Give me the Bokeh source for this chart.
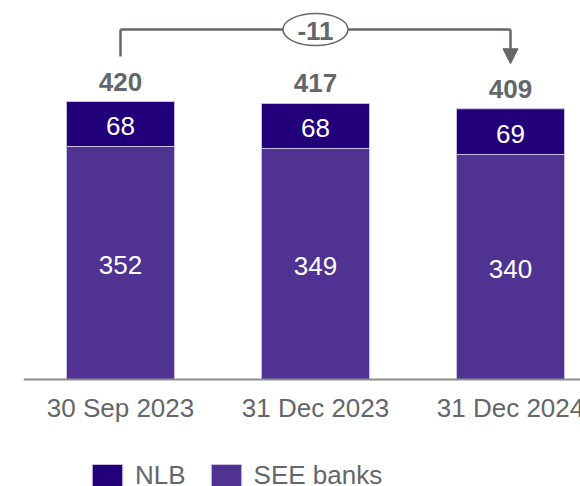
from bokeh.plotting import figure
from bokeh.models import Range1d, Legend, LegendItem, ColumnDataSource, Arrow, NormalHead, Span
from bokeh.core.properties import value
from bokeh.embed import file_html
from bokeh.resources import INLINE

# ---- data ----
categories = ["30 Sep 2023", "31 Dec 2023", "31 Dec 2024"]
nlb = [68, 68, 69]
see_banks = [352, 349, 340]
totals = [420, 417, 409]
change_label = "-11"

# ---- style ----
NLB_COLOR = "#22007A"
SEE_COLOR = "#4F3291"
GRAY = "#63666A"
AXIS_GRAY = "#8C8D91"
FONT = "Liberation Sans"

W, H = 580, 486
PX = 278 / 420          # pixels per unit
BASE_PX = 379           # baseline position from top
Y1 = BASE_PX / PX
Y0 = -(H - BASE_PX) / PX

x = list(range(len(categories)))
src = ColumnDataSource(dict(
    x=x,
    cat=categories,
    nlb=nlb,
    see=see_banks,
    total=totals,
    see_mid=[s / 2 for s in see_banks],
    nlb_mid=[s + n / 2 for s, n in zip(see_banks, nlb)],
    see_lbl=[str(v) for v in see_banks],
    nlb_lbl=[str(v) for v in nlb],
    tot_lbl=[str(v) for v in totals],
))

p = figure(width=W, height=H, output_backend="svg", toolbar_location=None,
           x_range=Range1d(-0.4974, 2.359), y_range=Range1d(Y0, Y1),
           x_axis_location=None, y_axis_location=None,
           min_border_left=23, min_border_right=0, min_border_top=0, min_border_bottom=0)
p.grid.visible = False
p.outline_line_color = None

rs = p.vbar_stack(["see", "nlb"], x="x", width=0.554, color=[SEE_COLOR, NLB_COLOR],
                  line_color="#c9c0e0", line_width=1, source=src)

p.add_layout(Span(location=0, dimension="width", line_color=AXIS_GRAY, line_width=2))

common = dict(text_font=value(FONT), text_font_size="26px", text_align="center")
p.text(x="x", y="see_mid", text="see_lbl", text_color="white", text_baseline="middle",
       y_offset=2, source=src, **common)
p.text(x="x", y="nlb_mid", text="nlb_lbl", text_color="white", text_baseline="middle",
       y_offset=2, source=src, **common)
p.text(x="x", y="total", text="tot_lbl", text_color=GRAY, text_baseline="alphabetic",
       y_offset=-20, text_font_style="bold", source=src, **common)
p.text(x="x", y=0, text="cat", text_color=GRAY, text_baseline="alphabetic",
       y_offset=28, source=src, **common)

# ---- change bracket ----
gap = 45 / PX
y_line = max(totals) + 72 / PX
x_first, x_last = x[0], x[-1]
x_mid = (x_first + x_last) / 2
p.segment(x0=[x_first, x_first], y0=[totals[0] + gap, y_line],
          x1=[x_first, x_last], y1=[y_line, y_line], line_color=GRAY, line_width=2.5)
p.add_layout(Arrow(x_start=x_last, y_start=y_line, x_end=x_last, y_end=totals[-1] + gap,
                   line_color=GRAY, line_width=2.5,
                   end=NormalHead(size=15, fill_color=GRAY, line_color=GRAY)))
p.ellipse(x=[x_mid], y=[y_line], width=65, height=32, width_units="screen",
          height_units="screen", fill_color="white", line_color=GRAY, line_width=1.5)
p.text(x=[x_mid], y=[y_line], text=[change_label], text_color=GRAY, text_baseline="middle",
       text_align="center", text_font=value(FONT), text_font_size="26px",
       text_font_style="bold", y_offset=1)

legend = Legend(items=[LegendItem(label="NLB", renderers=[rs[1]]),
                       LegendItem(label="SEE banks", renderers=[rs[0]])],
                location=(65, -5), orientation="horizontal", glyph_width=38, glyph_height=30,
                label_text_font=FONT, label_text_font_size="26px", label_text_color=GRAY,
                label_standoff=9, spacing=21, padding=0, margin=0,
                border_line_color=None, background_fill_alpha=0)
p.add_layout(legend)

open("out.html", "w").write(file_html(p, INLINE))
